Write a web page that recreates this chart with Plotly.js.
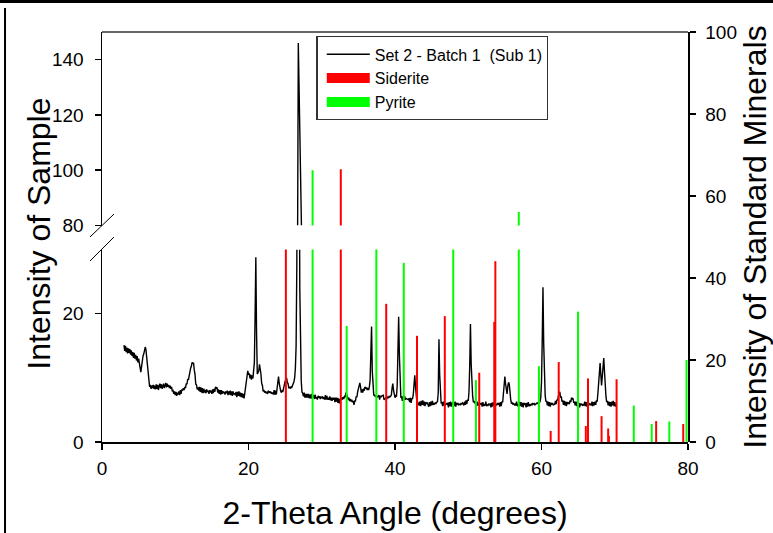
<!DOCTYPE html>
<html>
<head>
<meta charset="utf-8">
<script src="https://cdn.plot.ly/plotly-3.0.1.min.js"></script>
<style>
  html, body { margin: 0; padding: 0; background: #fff; }
  #chart { width: 773px; height: 533px; }
</style>
</head>
<body>
<div id="chart"></div>
<script>
// Diffractogram of the sample: 2-theta scan from 3.0 to 70.2 degrees, 0.1 degree steps
const scanStart = 3.0;
const scanStep = 0.1;
const sampleIntensity = [
  15.1, 14.2, 15.0, 14.0, 14.7, 13.8, 14.6, 13.9, 14.5, 13.6,   // 3
  14.3, 13.4, 14.0, 13.1, 13.9, 13.0, 13.6, 12.7, 13.4, 12.4,   // 4
  13.0, 11.9, 11.6, 10.9, 11.9, 12.4, 13.4, 13.7, 14.6, 14.8,   // 5
  14.4, 13.4, 12.3, 10.4, 9.4, 8.6, 8.9, 8.3, 8.8, 8.4,         // 6
  8.9, 8.3, 8.8, 8.2, 9.0, 8.3, 8.9, 8.1, 8.7, 9.1,             // 7
  8.4, 9.0, 8.3, 8.9, 9.1, 8.4, 9.0, 9.2, 8.5, 9.1,             // 8
  8.6, 8.9, 8.4, 8.8, 8.3, 8.6, 7.9, 8.0, 7.5, 7.9,             // 9
  7.3, 7.8, 7.2, 7.7, 7.4, 7.9, 7.3, 8.1, 7.5, 8.2,             // 10
  8.0, 8.4, 8.1, 8.6, 8.4, 9.1, 9.0, 9.8, 9.7, 10.6,            // 11
  10.7, 11.5, 11.8, 12.4, 12.3, 12.3, 11.2, 10.5, 9.0, 8.9,     // 12
  8.2, 8.5, 8.0, 8.6, 7.8, 8.5, 7.7, 8.4, 7.6, 8.3,             // 13
  7.7, 8.1, 7.6, 8.2, 7.8, 8.0, 7.5, 8.1, 7.7, 8.0,             // 14
  7.5, 8.2, 7.6, 8.3, 7.8, 8.6, 8.3, 8.5, 7.7, 8.2,             // 15
  7.5, 8.1, 7.4, 8.1, 7.5, 7.9, 7.6, 7.8, 7.4, 7.9,             // 16
  7.6, 8.0, 7.3, 7.9, 7.4, 8.0, 7.3, 7.9, 7.2, 7.9,             // 17
  7.4, 7.6, 7.3, 7.8, 7.0, 7.8, 7.2, 7.9, 7.1, 7.7,             // 18
  7.0, 7.6, 6.9, 7.5, 6.8, 7.8, 8.2, 9.6, 10.5, 11.1,           // 19
  10.5, 10.7, 9.9, 10.5, 9.7, 10.4, 9.9, 10.8, 12.4, 19.5,      // 20
  28.8, 17.0, 10.6, 10.8, 11.1, 12.1, 11.5, 10.6, 9.1, 8.8,     // 21
  7.9, 8.1, 7.7, 7.9, 7.6, 7.8, 7.5, 8.0, 7.7, 7.9,             // 22
  7.6, 7.8, 7.5, 7.7, 7.4, 8.1, 7.4, 8.0, 7.4, 8.3,             // 23
  9.5, 10.2, 9.1, 8.0, 7.9, 7.7, 8.0, 7.9, 8.5, 8.7,            // 24
  9.5, 9.6, 10.0, 9.3, 9.1, 8.4, 8.5, 8.4, 8.6, 8.5,            // 25
  8.8, 8.8, 9.4, 10.0, 11.5, 15.0, 28.0, 75.0, 146.0, 60.0,     // 26
  24.0, 13.0, 9.5, 7.8, 7.6, 7.1, 7.7, 6.9, 7.5, 6.9,           // 27
  7.5, 6.9, 7.5, 6.8, 7.4, 6.8, 7.5, 6.7, 7.3, 7.2,             // 28
  6.7, 7.4, 6.8, 7.0, 6.6, 7.2, 6.9, 7.1, 6.7, 7.0,             // 29
  6.9, 7.1, 6.7, 7.0, 6.6, 7.3, 6.6, 7.2, 6.6, 6.9,             // 30
  6.6, 7.1, 6.5, 6.9, 6.4, 6.9, 6.6, 6.9, 6.2, 6.9,             // 31
  6.3, 6.9, 6.1, 6.8, 6.0, 6.7, 6.5, 6.9, 6.6, 7.0,             // 32
  6.7, 7.1, 7.0, 7.7, 7.4, 7.3, 6.7, 6.8, 6.4, 6.7,             // 33
  6.3, 6.6, 6.2, 6.4, 5.8, 6.4, 6.4, 7.1, 7.0, 7.8,             // 34
  8.3, 9.1, 9.2, 8.6, 7.7, 8.2, 7.7, 8.3, 8.0, 8.6,             // 35
  8.3, 8.5, 8.1, 8.4, 8.1, 8.6, 9.6, 13.8, 18.0, 11.0,          // 36
  8.3, 7.3, 7.3, 7.1, 7.2, 6.9, 7.1, 7.1, 7.3, 6.6,             // 37
  7.2, 7.0, 7.2, 7.2, 7.3, 6.6, 6.7, 6.7, 6.9, 6.8,             // 38
  7.0, 6.9, 7.1, 7.0, 7.2, 7.3, 8.4, 9.1, 8.1, 7.4,             // 39
  6.9, 7.2, 7.1, 8.8, 14.5, 19.5, 13.5, 8.3, 6.9, 7.1,          // 40
  6.4, 7.1, 6.5, 7.2, 6.6, 6.8, 6.7, 6.7, 6.6, 6.8,             // 41
  6.2, 6.9, 6.1, 6.8, 6.7, 7.5, 8.8, 10.4, 8.6, 6.9,            // 42
  6.1, 6.2, 6.0, 5.7, 6.3, 5.6, 6.4, 5.8, 6.5, 5.7,             // 43
  6.3, 5.6, 6.2, 6.0, 6.1, 5.9, 5.5, 6.2, 5.6, 6.3,             // 44
  5.7, 6.4, 5.8, 6.0, 5.9, 6.1, 6.0, 6.2, 6.3, 7.6,             // 45
  16.0, 10.5, 7.1, 6.0, 6.2, 5.6, 6.3, 5.7, 5.9, 5.8,           // 46
  6.0, 5.9, 6.1, 5.4, 6.2, 5.6, 6.3, 5.5, 6.1, 6.0,             // 47
  6.2, 5.6, 6.3, 5.5, 6.1, 5.9, 6.0, 5.8, 5.9, 5.8,             // 48
  6.0, 5.9, 6.1, 6.0, 5.7, 6.3, 5.8, 6.5, 5.9, 6.6,             // 49
  6.4, 7.8, 11.8, 18.4, 12.2, 9.0, 7.1, 6.2, 6.3, 6.1,          // 50
  6.2, 5.6, 6.3, 5.7, 5.9, 5.8, 6.0, 5.9, 6.1, 5.5,             // 51
  6.2, 5.6, 5.8, 5.7, 6.3, 5.6, 5.8, 5.7, 5.9, 5.8,             // 52
  6.0, 5.4, 6.1, 5.5, 6.2, 5.6, 5.8, 5.7, 5.9, 5.8,             // 53
  6.0, 5.9, 6.1, 5.5, 6.2, 5.6, 6.3, 6.2, 7.6, 9.2,             // 54
  10.2, 9.0, 7.9, 7.5, 8.7, 9.3, 9.0, 7.4, 6.6, 6.0,            // 55
  6.1, 5.9, 6.0, 5.8, 5.9, 5.7, 6.3, 5.6, 5.8, 5.7,             // 56
  6.3, 5.6, 6.2, 5.5, 6.1, 5.4, 6.1, 5.9, 6.0, 5.4,             // 57
  6.1, 5.5, 6.2, 5.6, 5.8, 5.7, 5.9, 5.8, 6.0, 5.9,             // 58
  6.0, 5.8, 5.9, 5.9, 6.1, 6.0, 6.2, 6.1, 6.3, 6.9,             // 59
  9.4, 15.8, 24.1, 15.3, 9.5, 7.3, 6.3, 6.4, 5.7, 6.3,          // 60
  5.6, 6.2, 5.5, 6.1, 5.9, 6.0, 5.8, 5.9, 5.8, 6.4,             // 61
  5.9, 6.6, 6.5, 7.6, 7.7, 7.8, 6.9, 7.1, 6.3, 6.5,             // 62
  5.8, 6.4, 5.7, 6.3, 5.6, 6.2, 6.0, 6.1, 5.9, 6.5,             // 63
  6.2, 6.9, 6.7, 6.8, 6.1, 6.3, 5.7, 6.3, 5.6, 6.2,             // 64
  5.5, 6.1, 5.4, 6.0, 5.8, 5.9, 5.7, 5.8, 5.7, 6.3,             // 65
  5.6, 6.2, 5.5, 6.1, 5.9, 6.0, 5.8, 5.9, 5.7, 6.3,             // 66
  5.6, 6.2, 5.7, 6.3, 5.8, 6.5, 6.3, 7.6, 9.8, 10.6,            // 67
  12.3, 10.5, 8.8, 10.2, 12.6, 13.1, 11.0, 8.5, 7.1, 6.2,       // 68
  6.4, 5.7, 6.3, 5.6, 6.2, 5.5, 6.3, 5.7, 6.4, 5.6,             // 69
  6.2, 5.5, 6.0                                                 // 70
];

// Reference patterns of the standard minerals (relative intensity, right axis)
const sideriteAngle     = [25.1, 32.6, 38.8, 43.0, 46.8, 51.5, 53.55, 53.7, 61.25, 62.35, 66.05, 66.35, 68.2, 69.1, 69.2, 70.25, 75.65, 79.35];
const sideriteIntensity = [50, 66.5, 33.7, 25.9, 30.7, 16.9, 29.3, 44.1, 2.7, 19.5, 3.9, 15.5, 6.3, 3.3, 1.5, 15.3, 5.1, 4.4];
const pyriteAngle       = [28.75, 33.4, 37.45, 41.2, 47.95, 51.05, 56.9, 59.65, 64.98, 72.6, 75.05, 77.45, 79.8];
const pyriteIntensity   = [66.3, 28.3, 50, 43.7, 50, 15.1, 56.1, 18.5, 31.8, 8.9, 4.4, 5.0, 20];

// Axis ticks
const angleTicks = [0, 20, 40, 60, 80];
const lowerSampleTicks = [0, 20];
const upperSampleTicks = [80, 100, 120, 140];
const standardTicks = [0, 20, 40, 60, 80, 100];

const sampleName = 'Set 2 - Batch 1 \u00a0(Sub 1)';

const scanAngle = sampleIntensity.map((_, i) => Math.round((scanStart + i * scanStep) * 10) / 10);

// vertical sticks from zero up to each line intensity
function stickLines(angles, heights) {
  const x = [], y = [];
  angles.forEach((a, i) => { x.push(a, a, null); y.push(0, heights[i], null); });
  return { x, y };
}
const sid = stickLines(sideriteAngle, sideriteIntensity);
const pyr = stickLines(pyriteAngle, pyriteIntensity);

const RED = '#ff0000';
const GREEN = '#00ff00';
const SAMPLE_LINE = { color: '#000', width: 1.4 };

const traces = [
  { type: 'scatter', mode: 'lines', x: scanAngle, y: sampleIntensity, xaxis: 'x', yaxis: 'y',
    line: SAMPLE_LINE, name: sampleName },
  { type: 'scatter', mode: 'lines', x: scanAngle, y: sampleIntensity, xaxis: 'x', yaxis: 'y2',
    line: SAMPLE_LINE, showlegend: false },
  { type: 'scatter', mode: 'lines', x: sid.x, y: sid.y, xaxis: 'x', yaxis: 'y3',
    line: { color: RED, width: 2 }, showlegend: false, name: 'Siderite' },
  { type: 'scatter', mode: 'lines', x: pyr.x, y: pyr.y, xaxis: 'x', yaxis: 'y3',
    line: { color: GREEN, width: 2 }, showlegend: false, name: 'Pyrite' },
  // legend keys for the mineral patterns
  { type: 'scatter', mode: 'lines', x: [null], y: [null], xaxis: 'x', yaxis: 'y3',
    line: { color: RED, width: 12 }, name: 'Siderite' },
  { type: 'scatter', mode: 'lines', x: [null], y: [null], xaxis: 'x', yaxis: 'y3',
    line: { color: GREEN, width: 12 }, name: 'Pyrite' }
];

const FONT = 'Liberation Sans, Arial, Helvetica, sans-serif';
const axisCommon = {
  showline: true, linecolor: '#000', linewidth: 1.5,
  ticks: 'outside', ticklen: 6, tickwidth: 1.5, tickcolor: '#000',
  showgrid: false, zeroline: false, fixedrange: true,
  tickfont: { family: FONT, size: 19, color: '#000' }
};

const layout = {
  width: 773, height: 533,
  margin: { l: 102, r: 85, t: 32, b: 91, pad: 0 },
  paper_bgcolor: '#fff',
  plot_bgcolor: 'rgba(0,0,0,0)',
  font: { family: FONT, size: 19, color: '#000' },
  showlegend: true,
  legend: {
    x: 0.366, y: 0.99, xanchor: 'left', yanchor: 'top',
    bgcolor: '#fff', bordercolor: '#333', borderwidth: 1.3,
    font: { family: FONT, size: 16, color: '#000' },
    itemwidth: 43, indentation: 4, tracegroupgap: 0
  },
  xaxis: Object.assign({}, axisCommon, {
    range: [0, 80], tickvals: angleTicks, anchor: 'y', linewidth: 2, ticklabelstandoff: 2,
    title: { text: '2-Theta Angle (degrees)', font: { family: FONT, size: 32 }, standoff: 24 }
  }),
  yaxis: Object.assign({}, axisCommon, {
    domain: [0, 0.4695], range: [0, 30], tickvals: lowerSampleTicks, anchor: 'x', ticklabelstandoff: 7
  }),
  yaxis2: Object.assign({}, axisCommon, {
    domain: [0.528, 1], range: [80, 150], tickvals: upperSampleTicks, anchor: 'x', ticklabelstandoff: 7
  }),
  yaxis3: Object.assign({}, axisCommon, {
    domain: [0, 1], range: [0, 100], tickvals: standardTicks, anchor: 'x', side: 'right', ticklabelstandoff: 6,
    title: { text: 'Intensity of Standard Minerals', font: { family: FONT, size: 32 }, standoff: 6 }
  }),
  annotations: [{
    text: 'Intensity of Sample', textangle: -90, showarrow: false,
    xref: 'paper', yref: 'paper', x: -0.109, y: 0.5085, xanchor: 'center', yanchor: 'middle',
    font: { family: FONT, size: 32, color: '#000' }
  }],
  shapes: [
    // blank band of the broken sample axis
    { type: 'rect', xref: 'paper', yref: 'paper', x0: 0.003, x1: 0.996, y0: 0.4695, y1: 0.528,
      fillcolor: '#fff', line: { width: 0 }, layer: 'above' },
    // break marks on the left axis
    { type: 'line', xref: 'paper', yref: 'paper', x0: -0.0205, y0: 0.5, x1: 0.0205, y1: 0.556,
      line: { color: '#000', width: 1 }, layer: 'above' },
    { type: 'line', xref: 'paper', yref: 'paper', x0: -0.0205, y0: 0.4415, x1: 0.0205, y1: 0.5,
      line: { color: '#000', width: 1 }, layer: 'above' },
    // top edge of the plot box
    { type: 'line', xref: 'paper', yref: 'paper', x0: 0, y0: 1, x1: 1, y1: 1,
      line: { color: '#333', width: 1.3 }, layer: 'above' },
    // outer frame lines
    { type: 'line', xref: 'paper', yref: 'paper', x0: -0.18, y0: 1.0744, x1: 1.16, y1: 1.0744,
      line: { color: '#000', width: 3 }, layer: 'above' },
    { type: 'line', xref: 'paper', yref: 'paper', x0: -0.1655, y0: 1.0585, x1: -0.1655, y1: -0.23,
      line: { color: '#000', width: 2 }, layer: 'above' }
  ]
};

Plotly.newPlot('chart', traces, layout, { displayModeBar: false, staticPlot: true });
</script>
</body>
</html>
